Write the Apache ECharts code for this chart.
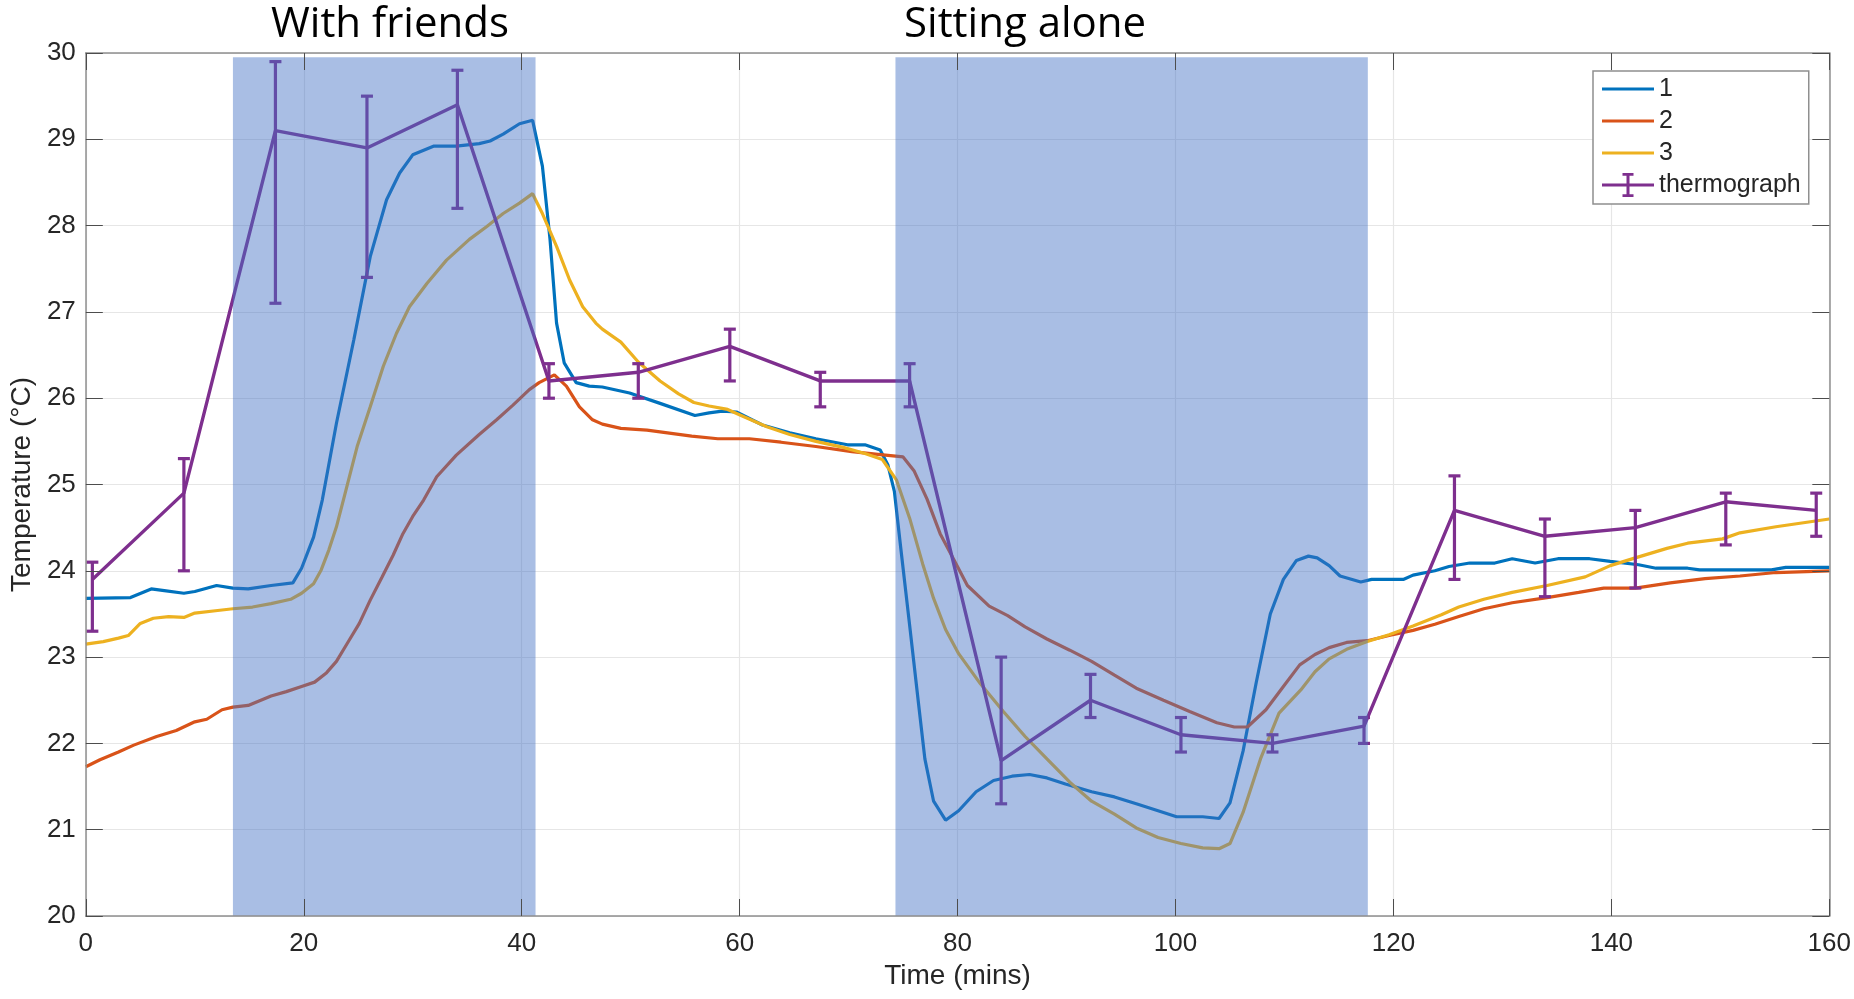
<!DOCTYPE html>
<html>
<head>
<meta charset="utf-8">
<script src="https://cdn.jsdelivr.net/npm/echarts@6/dist/echarts.min.js"></script>
<style>
html,body{margin:0;padding:0;background:#fff;}
#chart{width:1854px;height:999px;}
</style>
</head>
<body>
<div id="chart"></div>
<script>
// ---------------- data ----------------
var s1Time = [0,4.1,6.0,7.2,9.0,10.0,12.0,13.5,14.9,17.0,19.0,19.8,20.9,21.7,23.0,24.6,26.1,27.6,28.8,30.0,31.9,34.0,36.1,37.1,38.3,39.8,41.0,41.9,42.6,43.2,43.9,45.0,46.2,47.4,49.9,52.7,55.9,57.2,58.4,59.7,62.1,64.6,67.0,69.9,71.5,72.9,73.6,74.2,74.8,75.6,76.4,77.0,77.8,78.9,80.1,81.7,83.3,85.0,86.6,88.2,89.9,92.3,94.4,96.4,98.4,100.1,102.5,104.0,105.0,106.2,107.4,108.7,109.9,111.1,112.2,113.0,114.1,115.1,117.0,118.0,120.9,121.8,123.8,125.1,127.0,129.3,130.9,133.0,135.1,138.0,139.9,142.5,144.1,147.0,148.1,154.7,156.0,160];
var s1Temp = [23.68,23.69,23.79,23.77,23.74,23.76,23.83,23.80,23.79,23.83,23.86,24.03,24.39,24.82,25.71,26.68,27.64,28.30,28.61,28.82,28.92,28.92,28.95,28.98,29.06,29.18,29.22,28.69,27.84,26.87,26.41,26.18,26.14,26.13,26.06,25.94,25.80,25.83,25.85,25.84,25.69,25.60,25.53,25.46,25.46,25.40,25.23,24.92,24.25,23.37,22.48,21.82,21.33,21.11,21.22,21.44,21.57,21.62,21.64,21.60,21.53,21.44,21.38,21.30,21.22,21.15,21.15,21.13,21.31,21.91,22.70,23.50,23.90,24.12,24.17,24.15,24.06,23.94,23.87,23.90,23.90,23.95,24.00,24.05,24.09,24.09,24.14,24.09,24.14,24.14,24.11,24.07,24.03,24.03,24.01,24.01,24.04,24.04];

var s2Time = [0,1.3,3.0,4.4,6.5,8.3,10.0,11.1,12.5,13.5,14.9,17.0,18.4,19.8,21.0,22.1,23.0,24.0,25.1,26.1,27.2,28.2,29.1,30.0,31.0,32.2,34.0,36.1,37.7,39.2,40.7,41.6,43.0,44.1,45.3,46.5,47.4,49.1,51.5,55.6,58.0,60.9,63.8,67.0,70.3,72.7,75.0,76.0,77.2,78.4,79.7,80.9,82.9,84.6,86.2,88.2,90.3,92.3,94.4,96.4,98.9,101.3,103.8,105.4,106.6,108.3,109.9,111.4,112.8,114.1,115.7,117.6,119.6,121.8,123.8,126.0,128.3,130.9,134.1,137.0,139.3,142.2,145.4,148.6,151.8,155.1,160];
var s2Temp = [21.73,21.81,21.90,21.98,22.08,22.15,22.25,22.28,22.39,22.42,22.44,22.55,22.60,22.66,22.71,22.82,22.95,23.16,23.39,23.66,23.93,24.18,24.43,24.63,24.82,25.09,25.34,25.58,25.75,25.92,26.10,26.18,26.27,26.14,25.90,25.75,25.70,25.65,25.63,25.56,25.53,25.53,25.49,25.44,25.38,25.35,25.32,25.16,24.83,24.43,24.12,23.83,23.59,23.48,23.35,23.21,23.08,22.95,22.79,22.64,22.50,22.37,22.24,22.19,22.19,22.39,22.66,22.91,23.03,23.11,23.17,23.19,23.25,23.31,23.38,23.47,23.56,23.63,23.69,23.75,23.80,23.80,23.86,23.91,23.94,23.98,24.00];

var s3Time = [0,1.6,3.0,3.9,5.0,6.2,7.6,9.0,10.0,12.1,13.5,15.3,17.0,18.8,19.8,20.9,21.6,22.3,23.0,23.7,24.9,26.1,27.3,28.5,29.7,31.3,33.1,35.2,36.8,38.3,39.8,41.0,41.9,43.2,44.4,45.6,46.8,47.4,49.1,50.7,52.7,54.4,55.8,57.2,58.9,60.5,62.5,64.6,67.0,69.5,71.5,73.1,74.4,75.6,76.8,77.8,78.9,80.1,82.1,84.2,86.2,88.2,90.3,92.3,94.4,96.4,98.4,100.5,102.5,104.0,105.0,106.2,107.8,109.5,111.5,112.8,114.1,115.7,117.6,119.6,121.8,124.4,126.0,128.3,130.9,134.1,137.6,139.9,142.2,145.1,147.0,150.2,151.8,155.1,160];
var s3Temp = [23.15,23.18,23.22,23.25,23.39,23.45,23.47,23.46,23.51,23.54,23.56,23.58,23.62,23.67,23.74,23.85,24.01,24.24,24.51,24.85,25.44,25.90,26.37,26.75,27.06,27.33,27.60,27.84,27.99,28.14,28.26,28.37,28.14,27.76,27.37,27.06,26.87,26.80,26.65,26.42,26.20,26.05,25.95,25.91,25.87,25.78,25.67,25.58,25.50,25.43,25.36,25.29,25.05,24.61,24.08,23.68,23.32,23.04,22.69,22.37,22.08,21.82,21.55,21.33,21.18,21.02,20.91,20.84,20.79,20.78,20.84,21.20,21.82,22.35,22.62,22.83,22.98,23.09,23.18,23.26,23.36,23.49,23.58,23.67,23.75,23.83,23.93,24.06,24.15,24.26,24.32,24.37,24.44,24.51,24.60];

var thermoTime  = [0.6,9.0,17.4,25.8,34.1,42.5,50.7,59.1,67.4,75.6,84.0,92.2,100.5,108.9,117.3,125.6,133.9,142.2,150.5,158.8];
var thermoTemp  = [23.9,24.9,29.1,28.9,29.4,26.2,26.3,26.6,26.2,26.2,21.8,22.5,22.1,22.0,22.2,24.7,24.4,24.5,24.8,24.7];
var thermoUpper = [24.1,25.3,29.9,29.5,29.8,26.4,26.4,26.8,26.3,26.4,23.0,22.8,22.3,22.1,22.3,25.1,24.6,24.7,24.9,24.9];
var thermoLower = [23.3,24.0,27.1,27.4,28.2,26.0,26.0,26.2,25.9,25.9,21.3,22.3,21.9,21.9,22.0,23.9,23.7,23.8,24.3,24.4];

var shadeStart = [13.5, 74.3];
var shadeEnd   = [41.27, 117.65];
var shadeBottom = 20;
var shadeTop = 29.95;

var seriesNames = ['1','2','3','thermograph'];
var periodLabels = ['With friends','Sitting alone'];
var xTicks = {min:0, max:160, interval:20};
var yTicks = {min:20, max:30, interval:1};

// ---------------- styling ----------------
var C1 = '#0072BD', C2 = '#D95319', C3 = '#EDB120', C4 = '#7E2F8E';
var FONT = 'Liberation Sans';
function zip(a, b){ return a.map(function(v,i){ return [v, b[i]]; }); }

var LINE_ICON = 'path://M0,0 M52,28 M0,12.5 h52 v3 h-52 Z';
var ERR_ICON = 'path://M0,0 M52,28 M0,12.5 h52 v3 h-52 Z M20.5,2 h11 v2.75 h-4 v18.5 h4 v2.75 h-11 v-2.75 h4 v-18.5 h-4 Z';

var chart = echarts.init(document.getElementById('chart'), null, {renderer:'canvas'});

var axisLineStyle = {color:'#8f8f8f', width:1.5};
var tickStyle = {color:'#4d4d4d', width:1};

function baseX(extra){
  return Object.assign({type:'value', min:xTicks.min, max:xTicks.max, interval:xTicks.interval}, extra);
}
function baseY(extra){
  return Object.assign({type:'value', min:yTicks.min, max:yTicks.max, interval:yTicks.interval}, extra);
}

var titleStyle = {fontFamily:'Open Sans', fontSize:42, fontWeight:'normal', color:'#000'};

var option = {
  animation:false,
  backgroundColor:'#fff',
  title: [
    {text: periodLabels[0], left: 271, top: 4, padding: 0, textStyle: titleStyle},
    {text: periodLabels[1], left: 904, top: 4, padding: 0, textStyle: titleStyle}
  ],
  grid: {left:80, right:22, top:53, bottom:83},
  legend: {
    orient:'vertical', left:1593, top:71,
    padding:[4,8,5,9], itemGap:4, itemWidth:52, itemHeight:28,
    backgroundColor:'#fff', borderColor:'#8f8f8f', borderWidth:1.5,
    selectedMode:false, z:50,
    textStyle:{fontFamily:FONT, fontSize:25, color:'#262626'},
    data:[
      {name:seriesNames[0], icon:LINE_ICON, itemStyle:{color:C1, borderWidth:0}},
      {name:seriesNames[1], icon:LINE_ICON, itemStyle:{color:C2, borderWidth:0}},
      {name:seriesNames[2], icon:LINE_ICON, itemStyle:{color:C3, borderWidth:0}},
      {name:seriesNames[3], icon:ERR_ICON, itemStyle:{color:C4, borderWidth:0}}
    ]
  },
  xAxis: [
    baseX({position:'bottom', z:20,
      axisLine:{show:true, lineStyle:axisLineStyle},
      axisTick:{show:true, inside:true, length:17, lineStyle:tickStyle},
      axisLabel:{show:true, fontFamily:FONT, fontSize:26, color:'#262626', margin:15},
      splitLine:{show:false},
      name:'Time (mins)', nameLocation:'middle', nameGap:41,
      nameTextStyle:{fontFamily:FONT, fontSize:28, color:'#262626'}}),
    baseX({position:'top', z:20,
      axisLine:{show:true, onZero:false, lineStyle:axisLineStyle},
      axisTick:{show:true, inside:true, length:17, lineStyle:tickStyle},
      axisLabel:{show:false}, splitLine:{show:false}}),
    baseX({position:'bottom', z:0,
      axisLine:{show:false}, axisTick:{show:false}, axisLabel:{show:false},
      splitLine:{show:true, lineStyle:{color:'#e6e6e6', width:1.2}}})
  ],
  yAxis: [
    baseY({position:'left', z:20,
      axisLine:{show:true, lineStyle:axisLineStyle},
      axisTick:{show:true, inside:true, length:17, lineStyle:tickStyle},
      axisLabel:{show:true, fontFamily:FONT, fontSize:26, color:'#262626', margin:10},
      splitLine:{show:false},
      name:'Temperature (°C)', nameLocation:'middle', nameGap:46,
      nameTextStyle:{fontFamily:FONT, fontSize:28, color:'#262626'}}),
    baseY({position:'right', z:20,
      axisLine:{show:true, onZero:false, lineStyle:axisLineStyle},
      axisTick:{show:true, inside:true, length:17, lineStyle:tickStyle},
      axisLabel:{show:false}, splitLine:{show:false}}),
    baseY({position:'left', z:0,
      axisLine:{show:false}, axisTick:{show:false}, axisLabel:{show:false},
      splitLine:{show:true, lineStyle:{color:'#e6e6e6', width:1.2}}})
  ],
  series: [
    {name:seriesNames[0], type:'line', data:zip(s1Time, s1Temp), symbol:'none', showSymbol:false,
     z:3, lineStyle:{color:C1, width:3.2}, itemStyle:{color:C1}},
    {name:seriesNames[1], type:'line', data:zip(s2Time, s2Temp), symbol:'none', showSymbol:false,
     z:3, lineStyle:{color:C2, width:3.2}, itemStyle:{color:C2}},
    {name:seriesNames[2], type:'line', data:zip(s3Time, s3Temp), symbol:'none', showSymbol:false,
     z:3, lineStyle:{color:C3, width:3.2}, itemStyle:{color:C3}},
    {name:seriesNames[3], type:'line', data:zip(thermoTime, thermoTemp), symbol:'none', showSymbol:false,
     z:4, lineStyle:{color:C4, width:3.4}, itemStyle:{color:C4}},
    {name:'thermograph error', type:'custom', z:4,
     data: thermoTime.map(function(t,i){ return [t, thermoLower[i], thermoUpper[i]]; }),
     encode:{x:0, y:[1,2]},
     renderItem:function(params, api){
       var x = api.value(0);
       var pLo = api.coord([x, api.value(1)]);
       var pHi = api.coord([x, api.value(2)]);
       var w = 6;
       var st = {stroke:C4, lineWidth:3.2, fill:null};
       return {type:'group', children:[
         {type:'line', shape:{x1:pLo[0], y1:pLo[1], x2:pHi[0], y2:pHi[1]}, style:st},
         {type:'line', shape:{x1:pLo[0]-w, y1:pLo[1], x2:pLo[0]+w, y2:pLo[1]}, style:st},
         {type:'line', shape:{x1:pHi[0]-w, y1:pHi[1], x2:pHi[0]+w, y2:pHi[1]}, style:st}
       ]};
     }},
    {name:'periods', type:'custom', z:10, silent:true,
     data: shadeStart.map(function(s,i){ return [s, shadeEnd[i], shadeBottom, shadeTop]; }),
     encode:{x:[0,1], y:[2,3]},
     renderItem:function(params, api){
       var p0 = api.coord([api.value(0), api.value(3)]);
       var p1 = api.coord([api.value(1), api.value(2)]);
       return {type:'rect', shape:{x:p0[0], y:p0[1], width:p1[0]-p0[0], height:p1[1]-p0[1]},
               style:{fill:'rgba(68,114,196,0.46)'}};
     }}
  ]
};
chart.setOption(option);
</script>
</body>
</html>
